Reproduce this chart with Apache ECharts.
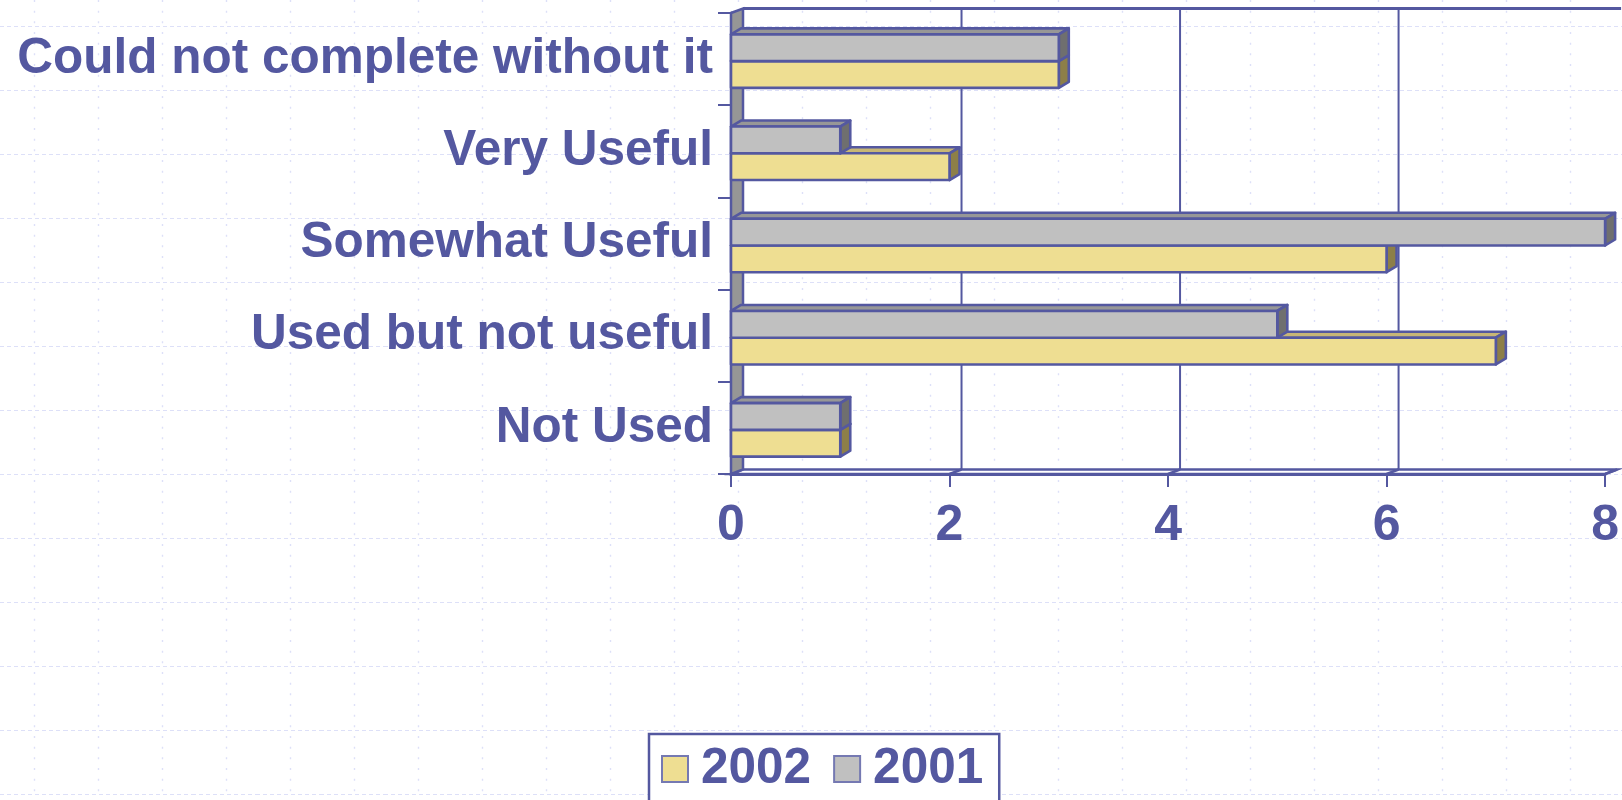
<!DOCTYPE html>
<html>
<head>
<meta charset="utf-8">
<script src="https://cdn.jsdelivr.net/npm/echarts@6/dist/echarts.min.js"></script>
<style>
  html, body { margin: 0; padding: 0; }
  body {
    width: 1622px; height: 800px; overflow: hidden;
    background-color: #ffffff;
    background-image: url("data:image/svg+xml;utf8,<svg xmlns='http://www.w3.org/2000/svg' width='64' height='64'><line x1='0' y1='26.5' x2='64' y2='26.5' stroke='%23dde0f8' stroke-width='1.2' stroke-dasharray='4 3'/><line x1='34.5' y1='0' x2='34.5' y2='64' stroke='%23dde0f8' stroke-width='1.4' stroke-dasharray='2 8.667'/></svg>");
    background-position: 0 0;
    background-repeat: repeat;
  }
  #chart { width: 1622px; height: 800px; }
</style>
</head>
<body>
<div id="chart"></div>
<script>
// ---- data ----
const categories = ['Not Used', 'Used but not useful', 'Somewhat Useful', 'Very Useful', 'Could not complete without it'];
const values2002 = [1, 7, 6, 2, 3];
const values2001 = [1, 5, 8, 1, 3];
const xTicks = [0, 2, 4, 6, 8];
const seriesNames = ['2002', '2001'];

// ---- styles ----
const INK = '#5458A0';
const FONT = '"Liberation Sans", Arial, Helvetica, sans-serif';
const YELLOW = { front: '#EEDE92', top: '#C7B676', side: '#8D7F48' };
const GRAY = { front: '#C0C0C0', top: '#979797', side: '#6F6F6F' };
const WALL_DX = 12, WALL_DY = -4.5;
const BAR_DX = 10, BAR_DY = -6;

const chart = echarts.init(document.getElementById('chart'), null, { renderer: 'canvas' });

function renderWalls(params, api) {
  const cs = params.coordSys;
  const x0 = cs.x, yt = cs.y, x1 = cs.x + cs.width, yb = cs.y + cs.height;
  const stroke = { stroke: INK, lineWidth: 2.5 };
  const children = [];
  children.push({
    type: 'polygon',
    shape: { points: [[x0, yb], [x0 + WALL_DX, yb + WALL_DY], [x1 + WALL_DX, yb + WALL_DY], [x1, yb]] },
    style: Object.assign({ fill: '#ffffff' }, stroke)
  });
  children.push({
    type: 'polygon',
    shape: { points: [[x0, yt], [x0 + WALL_DX, yt + WALL_DY], [x0 + WALL_DX, yb + WALL_DY], [x0, yb]] },
    style: Object.assign({ fill: '#969696' }, stroke)
  });
  children.push({
    type: 'line',
    shape: { x1: x0 + WALL_DX, y1: yt + WALL_DY, x2: x1 + WALL_DX + 4, y2: yt + WALL_DY },
    style: { stroke: INK, lineWidth: 3 }
  });
  xTicks.forEach(function (v) {
    if (v === 0) return;
    const px = api.coord([v, 0])[0];
    if (v !== xTicks[xTicks.length - 1]) {
      children.push({
        type: 'line',
        shape: { x1: px + WALL_DX, y1: yt + WALL_DY, x2: px + WALL_DX, y2: yb + WALL_DY },
        style: { stroke: INK, lineWidth: 2 }
      });
    }
    children.push({
      type: 'line',
      shape: { x1: px + WALL_DX, y1: yb + WALL_DY, x2: px, y2: yb },
      style: stroke
    });
  });
  return { type: 'group', children: children };
}

function makeBarRenderer(colors, isUpper) {
  return function (params, api) {
    const val = api.value(0);
    const cat = api.value(1);
    const p0 = api.coord([0, cat]);
    const p1 = api.coord([val, cat]);
    const band = api.size([0, 1])[1];
    const th = band * 0.29;
    const mid = p0[1] + 2;
    const yTop = isUpper ? mid - th : mid;
    const xa = p0[0], xb = p1[0];
    const st = { stroke: INK, lineWidth: 2.6, lineJoin: 'round' };
    return {
      type: 'group',
      children: [
        {
          type: 'polygon',
          shape: { points: [[xa, yTop], [xa + BAR_DX, yTop + BAR_DY], [xb + BAR_DX, yTop + BAR_DY], [xb, yTop]] },
          style: Object.assign({ fill: colors.top }, st)
        },
        {
          type: 'polygon',
          shape: { points: [[xb, yTop], [xb + BAR_DX, yTop + BAR_DY], [xb + BAR_DX, yTop + th + BAR_DY], [xb, yTop + th]] },
          style: Object.assign({ fill: colors.side }, st)
        },
        {
          type: 'rect',
          shape: { x: xa, y: yTop, width: xb - xa, height: th },
          style: Object.assign({ fill: colors.front }, st)
        }
      ]
    };
  };
}

const option = {
  animation: false,
  backgroundColor: 'transparent',
  grid: { left: 731, right: 13, top: 13, bottom: 326, containLabel: false },
  xAxis: {
    type: 'value',
    min: 0, max: 8, interval: 2,
    axisLine: { show: true, lineStyle: { color: INK, width: 3 } },
    axisTick: { show: true, length: 13, lineStyle: { color: INK, width: 2 } },
    splitLine: { show: false },
    axisLabel: { color: INK, fontSize: 50, fontWeight: 'bold', fontFamily: FONT, margin: 27 }
  },
  yAxis: {
    type: 'category',
    data: categories,
    axisLine: { show: true, lineStyle: { color: INK, width: 3 } },
    axisTick: { show: true, length: 13, lineStyle: { color: INK, width: 2 } },
    splitLine: { show: false },
    axisLabel: { color: INK, fontSize: 49.5, fontWeight: 'bold', fontFamily: FONT, margin: 18, lineHeight: 56, padding: [8, 0, 0, 0] }
  },
  legend: {
    left: 649, top: 734,
    padding: [10, 16, 40, 12],
    borderColor: INK, borderWidth: 2.5,
    backgroundColor: '#ffffff',
    itemWidth: 26, itemHeight: 26, itemGap: 22,
    icon: 'rect',
    textStyle: { color: INK, fontSize: 49.5, fontWeight: 'bold', fontFamily: FONT, padding: [0, 0, 0, 8] },
    data: [
      { name: seriesNames[0], itemStyle: { color: YELLOW.front, borderColor: '#7579B2', borderWidth: 2 } },
      { name: seriesNames[1], itemStyle: { color: GRAY.front, borderColor: '#7579B2', borderWidth: 2 } }
    ]
  },
  series: [
    {
      type: 'custom',
      name: 'walls',
      silent: true,
      clip: false,
      z: 1,
      renderItem: renderWalls,
      encode: { x: 0, y: 1 },
      data: [[0, 0]]
    },
    {
      type: 'custom',
      name: seriesNames[0],
      clip: false,
      z: 3,
      itemStyle: { color: YELLOW.front },
      renderItem: makeBarRenderer(YELLOW, false),
      encode: { x: 0, y: 1 },
      data: values2002.map(function (v, i) { return [v, i]; })
    },
    {
      type: 'custom',
      name: seriesNames[1],
      clip: false,
      z: 4,
      itemStyle: { color: GRAY.front },
      renderItem: makeBarRenderer(GRAY, true),
      encode: { x: 0, y: 1 },
      data: values2001.map(function (v, i) { return [v, i]; })
    }
  ]
};
chart.setOption(option);
</script>
</body>
</html>
